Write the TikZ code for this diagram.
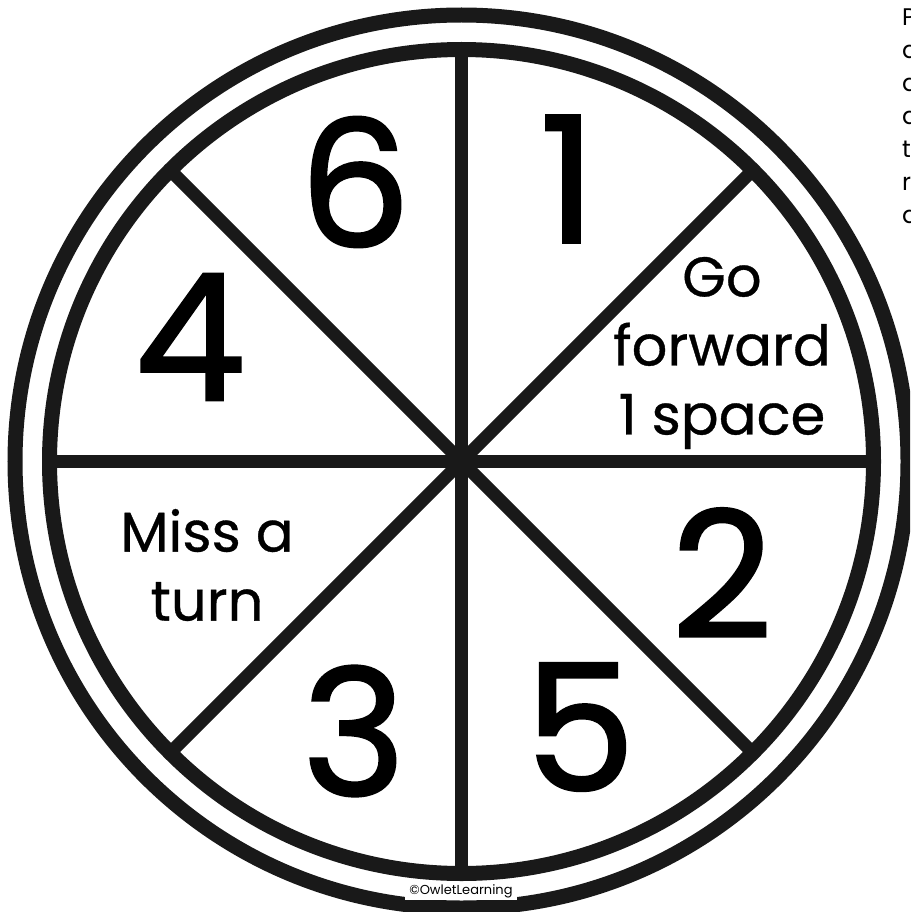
\documentclass[tikz,border=0pt]{standalone}
\usepackage{fontspec}
\setmainfont{Poppins}
\newfontfamily\digitfont{Poppins}[FakeBold=1.5]
\newfontfamily\actionfont{Poppins}[FakeBold=0.6]
\begin{document}
\begin{tikzpicture}[
    x=1pt, % one unit is one pixel of the 910x912 sheet
    y=-1pt, % y runs downwards, like the sheet
    every node/.style={anchor=center, inner sep=0pt},
    ring/.style={draw=black!90, line width=15pt},
    spoke/.style={draw=black!90, line width=13pt},
    digit/.style={font=\digitfont\fontsize{176}{176}\selectfont},
    action/.style={font=\actionfont\fontsize{56}{69}\selectfont, align=center},
    side text/.style={font=\fontsize{24}{33}\selectfont, align=left, anchor=north west}
    ]

\useasboundingbox (0,0) rectangle (910,912);
\clip (0,0) rectangle (910,912);

% --- Centre of the spinner ---
\coordinate (C) at (461.5,461.5);

% --- Rings ---
\draw[ring] (C) circle[radius=446.5];
\draw[ring] (C) circle[radius=412];

% --- Spokes ---
\foreach \a [count=\i from 0] in {0,45,...,315} {
    \path (C) ++(\a:412) coordinate (S-\i);
    \draw[spoke] (C) -- (S-\i);
}

% --- Sector labels ---
\node[digit] (six) at (355,182) {6};
\node[digit] (one) at (568,179) {1};
\node[digit] (four) at (190,337) {4};
\node[digit] (two) at (722,573) {2};
\node[digit] (three) at (354,731) {3};
\node[digit] (five) at (580,727) {5};

\node[action] (forward) at (722,353) {Go\\forward\\1 space};
\node[action] (miss) at (207,565) {Miss a\\turn};

% --- Copyright strip ---
\node[fill=white, inner xsep=4pt, inner ysep=2pt, font=\fontsize{13}{13}\selectfont]
    (copy) at (461,891) {©OwletLearning};

% --- Cut-off text at the right edge ---
\node[side text] (side) at (902,9) {P\\a\\a\\a\\t\\r\\a};

\end{tikzpicture}
\end{document}
